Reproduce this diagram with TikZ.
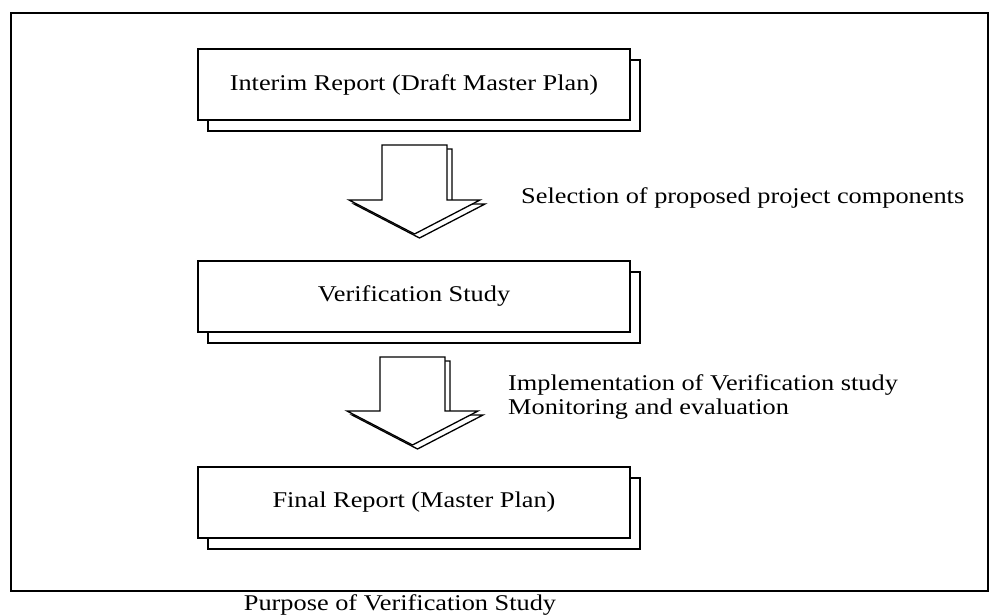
\documentclass[tikz,border=0pt]{standalone}
\usepackage{fontspec}
\usepackage{graphicx}
\setmainfont{Liberation Serif}
\newcommand{\widetxt}[1]{\scalebox{1.17}[1]{#1}}
\begin{document}
\begin{tikzpicture}[x=1pt,y=-1pt,
  txt/.style={inner sep=0pt,font=\fontsize{22.5}{27}\selectfont},
  card/.style={draw,line width=1.8pt,fill=white,minimum width=432pt,minimum height=71pt,inner sep=0pt,font=\fontsize{22.5}{27}\selectfont},
  cardshadow/.style={draw,line width=1.8pt,fill=white},
  blockarrow/.style={draw,line width=1.3pt,fill=white,line join=miter}]
\useasboundingbox (0,0) rectangle (991,616);

% outer frame
\draw[line width=2.3pt] (11,13) rectangle (988,591);

% stacked cards: shadow first, then the front card
\newcommand{\stackcard}[4]{%
  \draw[cardshadow] (#2+10-216,#3+11-35.5) rectangle (#2+10+216,#3+11+35.5);
  \node[card] (#1) at (#2,#3) {\widetxt{#4}};}
\stackcard{interim}{414}{84.5}{Interim Report (Draft Master Plan)}
\stackcard{verif}{414}{296.5}{Verification Study}
\stackcard{final}{414}{502.5}{Final Report (Master Plan)}

% block arrows between cards (with offset shadow)
\newcommand{\blockarrowat}[5]{% x-center, shaft top, wing y, tip y, dx/dy handled inside
  \draw[blockarrow] (#1-32.5+5,#2+4) -- (#1+32.5+5,#2+4) -- (#1+32.5+5,#3+4) -- (#1+65.5+5,#3+4)
     -- (#1+5,#4+4) -- (#1-65.5+5,#3+4) -- (#1-32.5+5,#3+4) -- cycle;
  \draw[blockarrow] (#1-32.5,#2) -- (#1+32.5,#2) -- (#1+32.5,#3) -- (#1+65.5,#3)
     -- (#1,#4) -- (#1-65.5,#3) -- (#1-32.5,#3) -- cycle;
  \coordinate (#5) at (#1,#4);}
\blockarrowat{414.5}{145}{200}{234}{tipA}
\blockarrowat{412.5}{357}{411}{445}{tipB}

% step labels
\node[txt,anchor=base west] (selA) at (521,203) {\widetxt{Selection of proposed project components}};
\node[txt,anchor=base west] (implB) at (508,390) {\widetxt{Implementation of Verification study}};
\node[txt,anchor=base west] (monB) at (508,414) {\widetxt{Monitoring and evaluation}};

% caption
\node[txt,anchor=base] (caption) at (400,610) {\widetxt{Purpose of Verification Study}};
\end{tikzpicture}
\end{document}
